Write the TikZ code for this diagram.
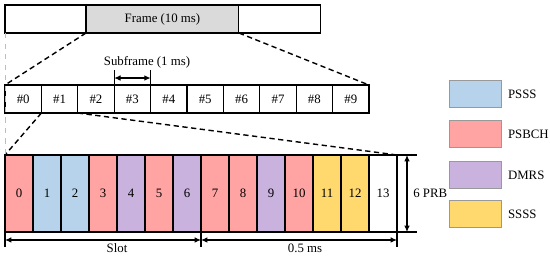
\documentclass[tikz,border=0pt]{standalone}
\usepackage{fontspec}
\setmainfont{Liberation Serif}
\usetikzlibrary{arrows.meta,positioning}
\definecolor{psss}{RGB}{183,211,235}
\definecolor{psbch}{RGB}{255,163,163}
\definecolor{dmrs}{RGB}{201,178,222}
\definecolor{ssss}{RGB}{255,217,110}
\definecolor{framegrey}{RGB}{218,218,218}

\begin{document}
\begin{tikzpicture}[x=0.02cm, y=-0.02cm,
  every node/.style={font=\fontsize{7.3}{8.5}\selectfont},
  frm/.style={draw, line width=0.6pt, outer sep=0pt, inner sep=0pt,
    minimum height=0.56cm},
  sub/.style={draw, line width=0.6pt, outer sep=0pt, inner sep=0pt,
    minimum height=0.56cm, minimum width=0.728cm, anchor=north west},
  sym/.style={draw, line width=0.8pt, outer sep=0pt, inner sep=0pt,
    minimum height=1.54cm, minimum width=0.56cm, anchor=north west},
  leg/.style={draw=black!40, line width=0.4pt, inner sep=0pt,
    minimum height=0.54cm, minimum width=1.04cm, anchor=north west},
  legtxt/.style={inner sep=0pt, right=0.12cm of #1},
  zoom/.style={dashed, line width=0.8pt, dash pattern=on 3pt off 2pt},
  dim/.style={{Latex[length=3.6pt,width=3.2pt]}-{Latex[length=3.6pt,width=3.2pt]},
    line width=0.6pt},
  tick/.style={line width=0.6pt}
]
\useasboundingbox (0,0) rectangle (550,258);
% frame
\node[frm, minimum width=1.62cm, anchor=north west] (fl) at (5,5) {};
\node[frm, minimum width=3.06cm, fill=framegrey, right=0pt of fl] (fg) {Frame (10 ms)};
\node[frm, minimum width=1.64cm, right=0pt of fg] (fr) {};
% subframes
\foreach \i in {0,...,9}
  \node[sub] (s\i) at ({5+36.4*\i},85) {\#\i};
\draw[zoom] (fg.south west) -- (s0.north west);
\draw[zoom] (fg.south east) -- (s9.north east);
\draw[tick] (s3.north west) -- ++(0,-7) coordinate (a1) -- ++(0,-8);
\draw[tick] (s3.north east) -- ++(0,-7) coordinate (a2) -- ++(0,-8);
\draw[dim] (a1) -- (a2);
\node (sflab) at (147,62) {Subframe (1 ms)};
% symbols
\foreach \i/\c in {0/psbch,1/psss,2/psss,3/psbch,4/dmrs,5/psbch,6/dmrs,
    7/psbch,8/psbch,9/dmrs,10/psbch,11/ssss,12/ssss,13/white}
  \node[sym, fill=\c] (y\i) at ({5+28*\i},155) {\i};
\draw[zoom] (s1.south west) -- (y0.north west);
\draw[zoom] (s2.south west) -- (y13.north east);
\draw[dashed, dmrs, line width=0.5pt] (fl.south west) -- (y0.north west);
% time axis
\draw[tick] (y0.south west) -- ++(0,8) coordinate (b0) -- ++(0,7);
\draw[tick] (y7.south west) -- ++(0,8) coordinate (b1) -- ++(0,7);
\draw[tick] (y13.south east) -- ++(0,8) coordinate (b2) -- ++(0,7);
\draw[dim] (b0) -- (b1);
\draw[dim] (b1) -- (b2);
\node (slot) at (117,248) {Slot};
\node (half) at (305,248) {0.5 ms};
% bandwidth
\draw[tick] (y13.north east) -- ++(20,0) coordinate (c0);
\draw[tick] (y13.south east) -- ++(20,0) coordinate (c1);
\draw[dim] ([xshift=-0.2cm]c0) -- ([xshift=-0.2cm]c1);
\node[anchor=west, inner sep=0pt] (prb) at (413,193) {6 PRB};
% legend
\node[leg, fill=psss] (lpsss) at (449,80) {};
\node[legtxt=lpsss] {PSSS};
\node[leg, fill=psbch] (lpsbch) at (449,120) {};
\node[legtxt=lpsbch] {PSBCH};
\node[leg, fill=dmrs] (ldmrs) at (449,161) {};
\node[legtxt=ldmrs] {DMRS};
\node[leg, fill=ssss] (lssss) at (449,200) {};
\node[legtxt=lssss] {SSSS};
\end{tikzpicture}
\end{document}
